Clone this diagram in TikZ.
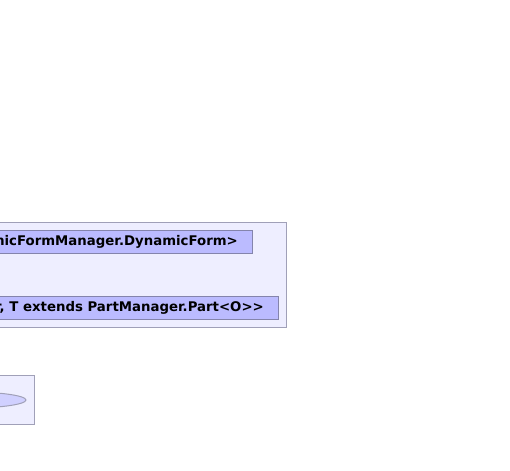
\documentclass[tikz,border=0pt]{standalone}
\usepackage{fontspec}
\setmainfont{DejaVu Sans}
\definecolor{pkgfill}{HTML}{EEEEFF}
\definecolor{pkgdraw}{HTML}{A0A0B8}
\definecolor{clsfill}{HTML}{BBBBFF}
\definecolor{clsdraw}{HTML}{8484AC}
\definecolor{ellfill}{HTML}{D0D0FF}
\tikzset{
  pkgbox/.style={fill=pkgfill, draw=pkgdraw, line width=1pt},
  clsbox/.style={fill=clsfill, draw=clsdraw, line width=1pt},
  clstext/.style={font=\bfseries\fontsize{13.3}{15}\selectfont, anchor=east, inner sep=0pt, text=black},
}
\begin{document}
\begin{tikzpicture}[x=1pt,y=-1pt]
\useasboundingbox (0,0) rectangle (510,470);
\clip (0,0) rectangle (510,470);
\draw[pkgbox] (-40,222.5) rectangle (286,327);
\draw[clsbox] (-40,230.5) rectangle (252,253);
\node[clstext] (t1) at (238,242) {micFormManager.DynamicForm>};
\draw[clsbox] (-40,296.5) rectangle (278,319);
\node[clstext] (t2) at (264,308) {r, T extends PartManager.Part<O>\kern0pt>};
\draw[pkgbox] (-40,375.5) rectangle (34,424);
\draw[fill=ellfill, draw=pkgdraw, line width=1pt] (-40,400) ellipse [x radius=66, y radius=8.5];
\end{tikzpicture}
\end{document}
